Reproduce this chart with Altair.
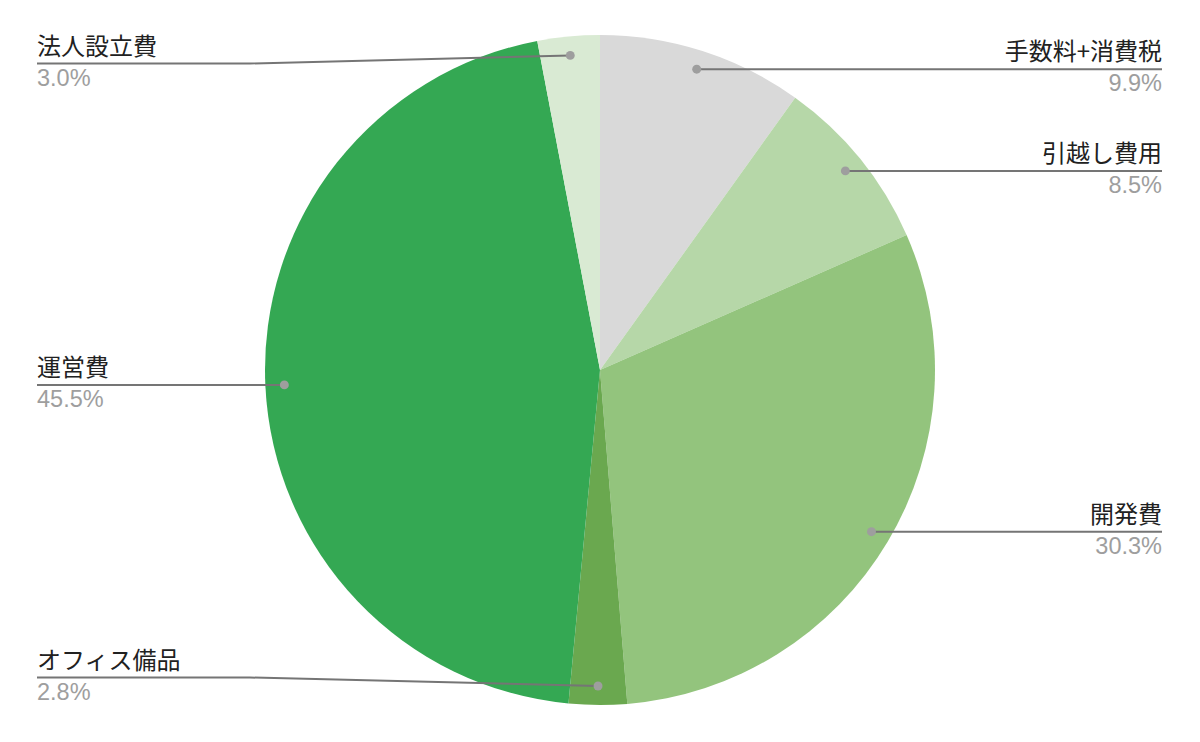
import math
import altair as alt
import pandas as pd

# ---- data ----
categories = ["手数料+消費税", "引越し費用", "開発費", "オフィス備品", "運営費", "法人設立費"]
shares = [9.9, 8.5, 30.3, 2.8, 45.5, 3.0]
percent_labels = ["9.9%", "8.5%", "30.3%", "2.8%", "45.5%", "3.0%"]
colors = ["#d9d9d9", "#b6d7a8", "#93c47d", "#6aa84f", "#34a853", "#d9ead3"]

# ---- layout (page pixel coordinates) ----
CX, CY = 600, 370
R_PIE = 335
R_DOT = 316
label_side = ["right", "right", "right", "left", "left", "left"]
label_line_y = [None, None, None, 677.5, None, 63.5]  # None: leader horizontal at dot height
LEFT_X, BEND_X, RIGHT_X = 37, 250, 1162

total = sum(shares)
pie_df = pd.DataFrame({"cat": categories, "share": shares, "idx": list(range(len(shares)))})

line_rows, dot_rows, text_rows = [], [], []
cum = 0.0
for i, (c, s) in enumerate(zip(categories, shares)):
    mid = (cum + s / 2) / total * 2 * math.pi
    cum += s
    dx = CX + R_DOT * math.sin(mid)
    dy = CY - R_DOT * math.cos(mid)
    dot_rows.append({"cat": c, "x": dx, "y": dy})
    ly = label_line_y[i] if label_line_y[i] is not None else dy
    if label_side[i] == "right":
        pts = [(dx, dy), (RIGHT_X, dy)]
        tx = RIGHT_X
    else:
        if label_line_y[i] is None:
            pts = [(LEFT_X, dy), (dx, dy)]
        else:
            pts = [(LEFT_X, ly), (BEND_X, ly), (dx, dy)]
        tx = LEFT_X
    for k, (px, py) in enumerate(pts):
        line_rows.append({"cat": c, "seq": k, "x": px, "y": py})
    text_rows.append({"cat": c, "pct": percent_labels[i], "side": label_side[i],
                      "x": tx, "ly": ly - 9, "py": ly + 22})

lines_df = pd.DataFrame(line_rows)
dots_df = pd.DataFrame(dot_rows)
text_df = pd.DataFrame(text_rows)

xs = alt.Scale(domain=[8, 1192], range=[0, 1184], nice=False, zero=False)
ys = alt.Scale(domain=[8, 734], range=[0, 726], nice=False, zero=False)

pie = alt.Chart(pie_df).mark_arc(radius=R_PIE).encode(
    theta=alt.Theta("share:Q", stack=True),
    order=alt.Order("idx:Q"),
    color=alt.Color("cat:N", scale=alt.Scale(domain=categories, range=colors), legend=None),
    x=alt.value(CX - 8),
    y=alt.value(CY - 8),
)

lines = alt.Chart(lines_df).mark_line(color="#757575", strokeWidth=2).encode(
    x=alt.X("x:Q", scale=xs, axis=None),
    y=alt.Y("y:Q", scale=ys, axis=None),
    detail="cat:N",
    order="seq:Q",
)

dots = alt.Chart(dots_df).mark_circle(color="#9e9e9e", opacity=1, size=80).encode(
    x=alt.X("x:Q", scale=xs, axis=None),
    y=alt.Y("y:Q", scale=ys, axis=None),
)


def text_layers(side, align):
    base = alt.Chart(text_df).transform_filter(alt.datum.side == side)
    name = base.mark_text(align=align, baseline="alphabetic", font="Noto Sans CJK JP",
                          fontSize=24, color="#212121").encode(
        x=alt.X("x:Q", scale=xs, axis=None),
        y=alt.Y("ly:Q", scale=ys, axis=None),
        text="cat:N",
    )
    pct = base.mark_text(align=align, baseline="alphabetic", font="Liberation Sans",
                         fontSize=23.5, color="#9e9e9e").encode(
        x=alt.X("x:Q", scale=xs, axis=None),
        y=alt.Y("py:Q", scale=ys, axis=None),
        text="pct:N",
    )
    return [name, pct]


chart = alt.layer(
    pie, lines, dots, *text_layers("left", "left"), *text_layers("right", "right")
).properties(
    width=1184, height=726, padding=0, autosize="none"
).configure_view(stroke=None)

chart.save("out.html", embed_options={"renderer": "svg", "actions": False})
